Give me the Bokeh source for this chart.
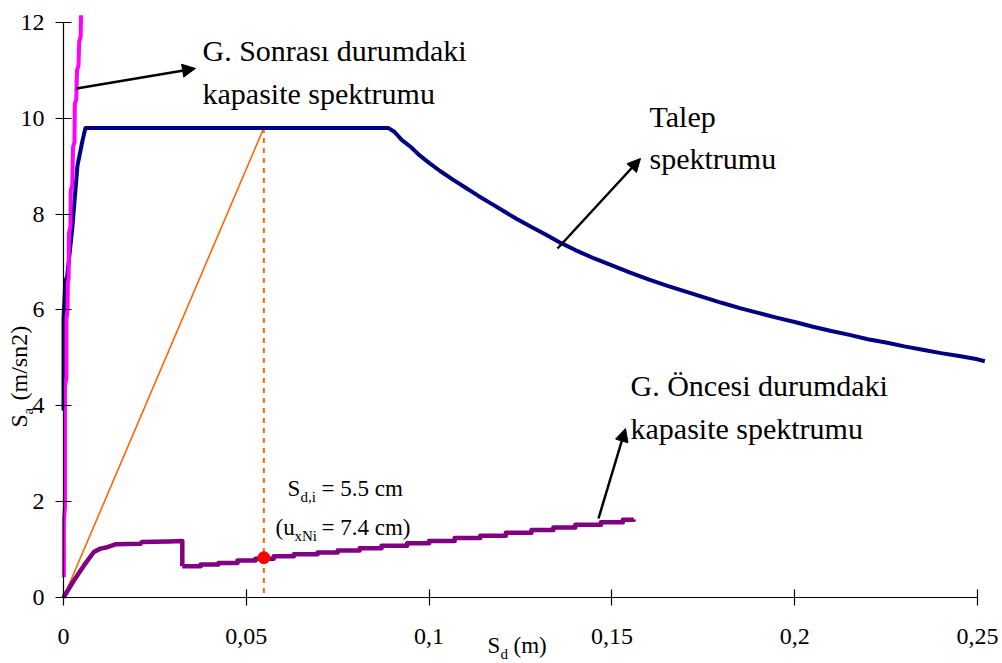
import math
from bokeh.plotting import figure
from bokeh.models import FixedTicker, Label, Arrow, NormalHead, Range1d
from bokeh.embed import file_html
from bokeh.resources import INLINE

# ---------------- data ----------------
# Demand spectrum (Talep spektrumu)
demand_sd = [0.0, 0.0, 0.0005, 0.0010, 0.0024, 0.0038, 0.0051, 0.0060, 0.0888,
             0.0905, 0.0925, 0.0950, 0.0975, 0.1000, 0.1030, 0.1065, 0.1100,
             0.1135, 0.1170, 0.1200, 0.1240, 0.1280, 0.1320, 0.1360, 0.1400,
             0.1450, 0.1500, 0.1550, 0.1600, 0.1650, 0.1700, 0.1750, 0.1800,
             0.1850, 0.1900, 0.1950, 0.2000, 0.2050, 0.2100, 0.2150, 0.2200,
             0.2250, 0.2300, 0.2350, 0.2400, 0.2450, 0.2500, 0.2520]
demand_sa = [3.9, 5.8, 6.6, 6.7, 7.7, 9.0, 9.5, 9.8, 9.8,
             9.72, 9.55, 9.40, 9.22, 9.07, 8.90, 8.72, 8.55,
             8.38, 8.22, 8.08, 7.90, 7.73, 7.57, 7.40, 7.25,
             7.08, 6.93, 6.78, 6.64, 6.51, 6.39, 6.27, 6.15,
             6.04, 5.94, 5.84, 5.75, 5.65, 5.56, 5.48, 5.39,
             5.32, 5.24, 5.17, 5.10, 5.04, 4.97, 4.93]

# Capacity spectrum after retrofit (G. Sonrası)
after_sd = [0.0001, 0.0001, 0.0004, 0.0004, 0.0008, 0.0008, 0.0011, 0.0012,
            0.0014, 0.0015, 0.0019, 0.0020, 0.0024, 0.0026, 0.0030, 0.0031,
            0.0035, 0.0037, 0.0041, 0.0043, 0.0047, 0.0048]
after_sa = [0.42, 1.6, 1.9, 4.4, 4.6, 5.8, 6.0, 6.6,
            6.65, 7.6, 7.75, 8.5, 8.6, 9.4, 9.5, 10.3,
            10.4, 11.0, 11.1, 11.6, 11.7, 12.15]

# Capacity spectrum before retrofit (G. Öncesi) - initial branch
before_sd = [0.0, 0.0028, 0.0056, 0.0083, 0.0101, 0.0120, 0.0142, 0.0210,
             0.0215, 0.0287, 0.0325, 0.0325]
before_sa = [0.0, 0.35, 0.67, 0.95, 1.02, 1.05, 1.11, 1.12,
             1.16, 1.17, 1.18, 0.65]
# Capacity spectrum before retrofit - stepped branch
before_step_sd = [0.0325, 0.0375, 0.0424, 0.0476, 0.0525, 0.0575, 0.0630, 0.0695,
                  0.0750, 0.0810, 0.0870, 0.0940, 0.1000, 0.1070, 0.1140, 0.1210,
                  0.1280, 0.1340, 0.1400, 0.1470, 0.1530, 0.1560]
before_step_sa = [0.65, 0.69, 0.72, 0.77, 0.81, 0.86, 0.90, 0.94,
                  0.98, 1.03, 1.08, 1.13, 1.18, 1.24, 1.29, 1.35,
                  1.41, 1.46, 1.52, 1.57, 1.62, 1.63]

# Performance point
perf_sd = 0.0548
perf_sa = 0.83
plateau_sa = 9.8

x_ticks = [0, 0.05, 0.1, 0.15, 0.2, 0.25]
x_tick_labels = ["0", "0,05", "0,1", "0,15", "0,2", "0,25"]
y_ticks = [0, 2, 4, 6, 8, 10, 12]
y_tick_labels = ["0", "2", "4", "6", "8", "10", "12"]

# ---------------- figure ----------------
FONT = "'Liberation Serif', 'Times New Roman', 'DejaVu Serif', serif"
W, H = 1000, 663
X0, XS = 63.0, 3656.0      # pixel of x=0, pixels per metre
Y0, YS = 597.0, 47.92      # pixel of y=0, pixels per m/s2

p = figure(width=W, height=H,
           x_range=Range1d(-X0 / XS, (W - X0) / XS),
           y_range=Range1d((Y0 - H) / YS, Y0 / YS),
           output_backend="svg", toolbar_location=None,
           min_border=0, min_border_left=0, min_border_right=0,
           min_border_top=0, min_border_bottom=0)
p.outline_line_color = None
p.grid.visible = False
p.background_fill_color = "white"
p.border_fill_color = "white"

p.xaxis.ticker = FixedTicker(ticks=x_ticks)
p.xaxis.major_label_overrides = {t: l for t, l in zip(x_ticks, x_tick_labels)}
p.yaxis.ticker = FixedTicker(ticks=y_ticks)
p.yaxis.major_label_overrides = {t: l for t, l in zip(y_ticks, y_tick_labels)}
p.xaxis.bounds = (0, 0.25)
p.yaxis.bounds = (0, 12)
p.xaxis.fixed_location = 0
p.yaxis.fixed_location = 0
for ax in p.axis:
    ax.axis_line_color = "black"
    ax.axis_line_width = 1.2
    ax.major_tick_line_color = "black"
    ax.major_tick_line_width = 1.2
    ax.minor_tick_line_color = None
    ax.major_tick_in = 8
    ax.major_tick_out = 8
    ax.major_label_text_font = FONT
    ax.major_label_text_font_size = "24px"
    ax.major_label_text_color = "black"
p.xaxis.major_label_standoff = 23
p.yaxis.major_label_standoff = 11

# ---------------- marks ----------------
p.line([0, perf_sd], [0, plateau_sa], line_color="#FF6600", line_width=1.6)
p.line([perf_sd, perf_sd], [plateau_sa, 0], line_color="#FF6600", line_width=2,
       line_dash="5 5")
p.line(demand_sd, demand_sa, line_color="#000080", line_width=4, line_join="round")
p.line(before_sd, before_sa, line_color="#800080", line_width=4.5, line_join="round")
p.step(before_step_sd, before_step_sa, mode="after", line_color="#800080",
       line_width=4.5, line_join="round")
p.line(after_sd, after_sa, line_color="#FF00FF", line_width=4, line_join="round")
p.scatter([perf_sd], [perf_sa], size=12, fill_color="#FF0000", line_color="#FF0000")

# ---------------- annotations (positions in page pixels, baseline) ----------------
SHIFT = 0.42   # Bokeh places the alphabetic anchor about this many ems below the baseline

def dx(px):
    return (px - X0) / XS

def dy(py):
    return (Y0 - py) / YS

def lab(px, py, text, size, angle=0.0):
    if angle:
        px = px - SHIFT * size
    else:
        py = py - SHIFT * size
    p.add_layout(Label(x=dx(px), y=dy(py), text=text, text_font=FONT,
                       text_font_size=f"{size}px", text_color="black",
                       text_align="left", text_baseline="alphabetic", angle=angle))

def arrow(x0, y0, x1, y1):
    p.add_layout(Arrow(end=NormalHead(size=13, fill_color="black", line_color="black"),
                       x_start=dx(x0), y_start=dy(y0), x_end=dx(x1), y_end=dy(y1),
                       line_width=2.5, line_color="black"))

lab(202, 63, "G. Sonrası durumdaki", 30)
lab(202, 106, "kapasite spektrumu", 30)
lab(649, 129, "Talep", 30)
lab(649, 171, "spektrumu", 30)
lab(630, 398, "G. Öncesi durumdaki", 30)
lab(630, 441, "kapasite spektrumu", 30)

lab(287, 498, "S", 23)
lab(300, 503, "d,i", 15)
lab(321, 498, "= 5.5 cm", 23)
lab(275, 537, "(u", 23)
lab(294, 542, "xNi", 15)
lab(321, 537, "= 7.4 cm)", 23)

lab(487, 655, "S", 23)
lab(500, 660, "d", 15)
lab(513, 655, "(m)", 23)

lab(29, 427, "S", 24, math.pi / 2)
lab(34, 414, "a", 15, math.pi / 2)
lab(29, 400, "(m/sn2)", 24, math.pi / 2)

arrow(76, 88, 195, 68)
arrow(557, 248, 640, 158)
arrow(598, 518, 625, 428)

open("out.html", "w").write(file_html(p, INLINE))
